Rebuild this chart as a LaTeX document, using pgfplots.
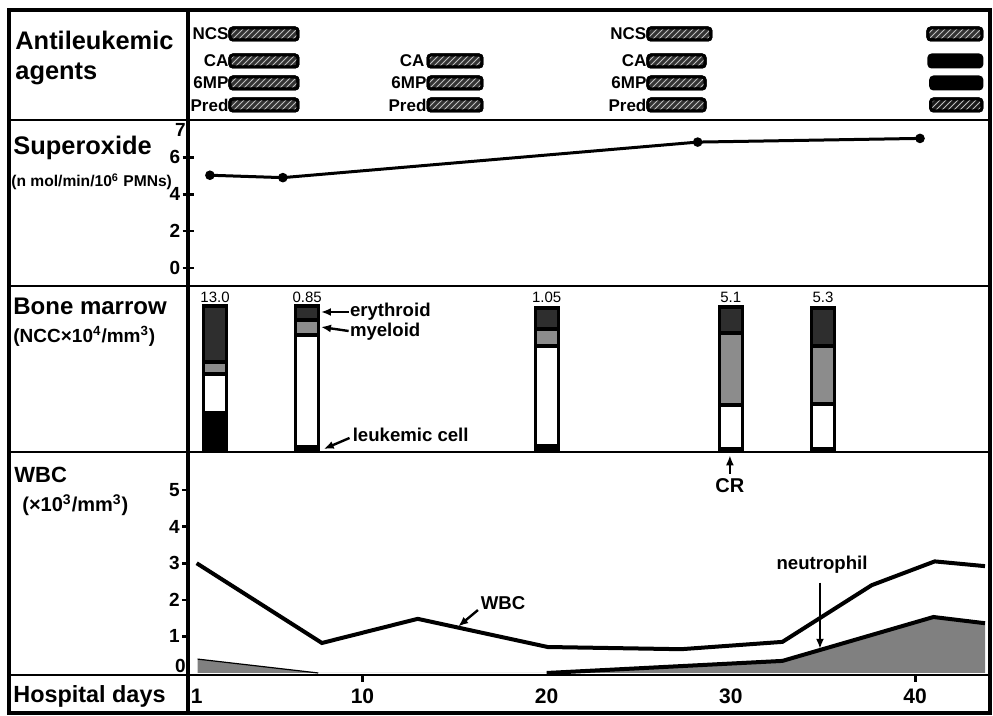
\documentclass[border=0pt]{standalone}
\usepackage{pgfplots}
\pgfplotsset{compat=1.18}
\usepackage{fontspec}
\setmainfont{Liberation Sans}
\usetikzlibrary{patterns,arrows.meta}
\newcommand{\fs}[1]{\fontsize{#1}{#1}\selectfont}
\pgfplotsset{
  panel/.style={scale only axis, width=401pt, xmin=0.53, xmax=44.07,
    anchor=north west, clip=false,
    /pgf/number format/assume math mode=true},
  agent/.style={draw=black, line width=1.5pt, rounded corners=1.5pt, fill=black!80,
    postaction={pattern=north east lines, pattern color=white!75!black}},
  agentblk/.style={draw=black, line width=1.5pt, rounded corners=1.5pt, fill=black},
  seg/.style={draw=black, line width=1.6pt, bar shift=0pt},
}
\tikzset{ann/.style={font=\bfseries\fs{9.3}, inner sep=0.5pt},
  arr/.style={-{Latex[length=5pt,width=4pt]}, line width=1.2pt}}
\begin{document}
\begin{tikzpicture}
% ---------------- Antileukemic agents ----------------
\begin{axis}[panel, at={(94pt,-5pt)}, height=55pt, ymin=10, ymax=120, y dir=reverse, hide axis]
% block 1
\addplot[agent] coordinates {(2.81,28) (6.50,28) (6.50,40) (2.81,40)} -- cycle;
\addplot[agent] coordinates {(2.81,55) (6.50,55) (6.50,67) (2.81,67)} -- cycle;
\addplot[agent] coordinates {(2.81,77) (6.50,77) (6.50,89) (2.81,89)} -- cycle;
\addplot[agent] coordinates {(2.81,99) (6.50,99) (6.50,111) (2.81,111)} -- cycle;
% block 2
\addplot[agent] coordinates {(13.56,55) (16.49,55) (16.49,67) (13.56,67)} -- cycle;
\addplot[agent] coordinates {(13.56,77) (16.49,77) (16.49,89) (13.56,89)} -- cycle;
\addplot[agent] coordinates {(13.56,99) (16.49,99) (16.49,111) (13.56,111)} -- cycle;
% block 3
\addplot[agent] coordinates {(25.50,28) (28.92,28) (28.92,40) (25.50,40)} -- cycle;
\addplot[agent] coordinates {(25.50,55) (28.60,55) (28.60,67) (25.50,67)} -- cycle;
\addplot[agent] coordinates {(25.50,77) (28.60,77) (28.60,89) (25.50,89)} -- cycle;
\addplot[agent] coordinates {(25.50,99) (28.60,99) (28.60,111) (25.50,111)} -- cycle;
% block 4
\addplot[agent] coordinates {(40.70,28) (43.63,28) (43.63,40) (40.70,40)} -- cycle;
\addplot[agentblk] coordinates {(40.75,55) (43.63,55) (43.63,67) (40.75,67)} -- cycle;
\addplot[agentblk] coordinates {(40.85,77) (43.63,77) (43.63,89) (40.85,89)} -- cycle;
\addplot[agent, fill=black!90] coordinates {(40.85,99) (43.63,99) (43.63,111) (40.85,111)} -- cycle;
% labels
\begin{scope}[every node/.style={anchor=east, font=\bfseries\fs{8.5}, inner sep=0.6pt}]
\node at (axis cs:2.81,34) {NCS};
\node at (axis cs:2.81,61) {CA};
\node at (axis cs:2.81,83) {6MP};
\node at (axis cs:2.81,105) {Pred};
\node at (axis cs:13.45,61) {CA};
\node at (axis cs:13.56,83) {6MP};
\node at (axis cs:13.56,105) {Pred};
\node at (axis cs:25.50,34) {NCS};
\node at (axis cs:25.50,61) {CA};
\node at (axis cs:25.50,83) {6MP};
\node at (axis cs:25.50,105) {Pred};
\end{scope}
\end{axis}

% ---------------- Superoxide ----------------
\begin{axis}[panel, at={(94pt,-60pt)}, height=83pt, ymin=-0.984, ymax=8.03,
  axis x line=none, axis y line*=left, y axis line style={draw=none},
  ytick={0,2,4,6}, extra y ticks={7.5}, extra y tick labels={7},
  extra y tick style={major tick length=0pt},
  major tick length=5.5pt, tick align=center,
  ytick style={line width=1.3pt, black},
  yticklabel style={font=\bfseries\fs{9.5}, inner sep=1pt}]
\addplot[black, line width=1.5pt, mark=*, mark size=1.6pt] coordinates {(1.72,5.03) (5.68,4.9) (28.2,6.83) (40.27,7.03)};
\end{axis}

% ---------------- Bone marrow (segments drawn as cumulative heights, tallest first) ----------------
\begin{axis}[panel, at={(94pt,-143pt)}, height=83pt, ymin=-1, ymax=165, hide axis,
  ybar, bar width=1.25]
% erythroid (top of bar = total)
\addplot[seg, fill=black!82] coordinates {(2,145) (7,145) (20,143) (30,144) (35,143)};
% myeloid
\addplot[seg, fill=black!45] coordinates {(2,89) (7,131) (20,122) (30,118) (35,105)};
% other (white)
\addplot[seg, fill=white] coordinates {(2,77) (7,116) (20,105) (30,46) (35,47)};
% leukemic cell
\addplot[seg, fill=black] coordinates {(2,38) (7,4) (20,5) (30,2) (35,2)};
\node[font=\fs{7.5}, inner sep=0.5pt] at (axis cs:2,154) {13.0};
\node[font=\fs{7.5}, inner sep=0.5pt] at (axis cs:7,154) {0.85};
\node[font=\fs{7.5}, inner sep=0.5pt] at (axis cs:20,154) {1.05};
\node[font=\fs{7.5}, inner sep=0.5pt] at (axis cs:30,154) {5.1};
\node[font=\fs{7.5}, inner sep=0.5pt] at (axis cs:35,154) {5.3};
\node[ann, anchor=west] at (axis cs:9.25,139) {erythroid};
\draw[arr] (axis cs:9.25,139) -- (axis cs:7.75,139);
\node[ann, anchor=west] at (axis cs:9.25,119) {myeloid};
\draw[arr] (axis cs:9.25,120) -- (axis cs:7.75,124);
\node[ann, anchor=west] at (axis cs:9.4,16) {leukemic cell};
\draw[arr] (axis cs:9.3,13) -- (axis cs:7.9,2);
\end{axis}

% ---------------- WBC ----------------
\begin{axis}[panel, at={(94pt,-226pt)}, height=111.5pt, ymin=-0.055, ymax=6.04,
  axis x line*=bottom, axis y line*=left, axis line style={draw=none},
  xtick={1,10,20,30,40}, x tick style={draw=none},
  xticklabel style={font=\bfseries\fs{10.5}, anchor=center, yshift=-7.5pt},
  extra x ticks={10,40}, extra x tick labels={},
  extra x tick style={x tick style={draw=black, line width=1.5pt}, major tick length=3.5pt, tick align=outside},
  ytick={1,2,3,4,5}, extra y ticks={0.2}, extra y tick labels={0},
  extra y tick style={major tick length=0pt},
  ytick style={line width=1.3pt, black}, major tick length=3pt, tick align=outside,
  yticklabel style={font=\bfseries\fs{9.5}, inner sep=1pt}]
\addplot[fill=black!50, draw=none] coordinates {(1.05,0) (1.05,0.38) (7.6,0) (20,0) (32.8,0.33) (41.0,1.53) (43.8,1.36) (43.8,0)} -- cycle;
\addplot[black, line width=0.6pt] coordinates {(1.05,0.38) (7.6,0)};
\addplot[black, line width=2pt] coordinates {(20,0) (32.8,0.33) (41.0,1.53) (43.8,1.36)};
\addplot[black, line width=2pt] coordinates {(1.0,3.0) (7.8,0.82) (13.0,1.48) (20.06,0.71) (27.3,0.65) (32.8,0.85) (37.65,2.4) (41.07,3.05) (43.8,2.92)};
\node[ann] at (axis cs:17.63,1.91) {WBC};
\draw[arr] (axis cs:16.27,1.72) -- (axis cs:15.2,1.27);
\node[ann] at (axis cs:34.95,2.95) {neutrophil};
\draw[arr] (axis cs:34.84,2.47) -- (axis cs:34.84,0.66);
\node[ann, font=\bfseries\fs{10}] at (axis cs:29.95,5.11) {CR};
\draw[arr] (axis cs:29.95,5.45) -- (axis cs:29.95,5.95);
\end{axis}

% ---------------- frame and left column ----------------
\begin{scope}[x=0.5pt, y=-0.5pt]
\path (0,0) rectangle (993,716);
\draw[line width=1.8pt] (9,10) rectangle (990,713);
\draw[line width=1.6pt] (188,10) -- (188,713);
\foreach \yy in {120,286,452,675} \draw[line width=1.4pt] (9,\yy) -- (990,\yy);
\begin{scope}[every node/.style={anchor=base west, inner sep=0pt}]
\node[font=\bfseries\fs{12.7}] at (15,50) {Antileukemic};
\node[font=\bfseries\fs{12.7}] at (15,80) {agents};
\node[font=\bfseries\fs{12.7}] at (13,155) {Superoxide};
\node[font=\bfseries\fs{7.8}] at (11,187) {(n mol/min/10\textsuperscript{6} PMNs)};
\node[font=\bfseries\fs{12}] at (13,315) {Bone marrow};
\node[font=\bfseries\fs{9.5}] at (13,343) {(NCC×10\textsuperscript{4}/mm\textsuperscript{3})};
\node[font=\bfseries\fs{11}] at (14,483) {WBC};
\node[font=\bfseries\fs{10}] at (22,512) {(×10\textsuperscript{3}/mm\textsuperscript{3})};
\node[font=\bfseries\fs{11.7}] at (13,703) {Hospital days};
\end{scope}
\end{scope}
\end{tikzpicture}
\end{document}
